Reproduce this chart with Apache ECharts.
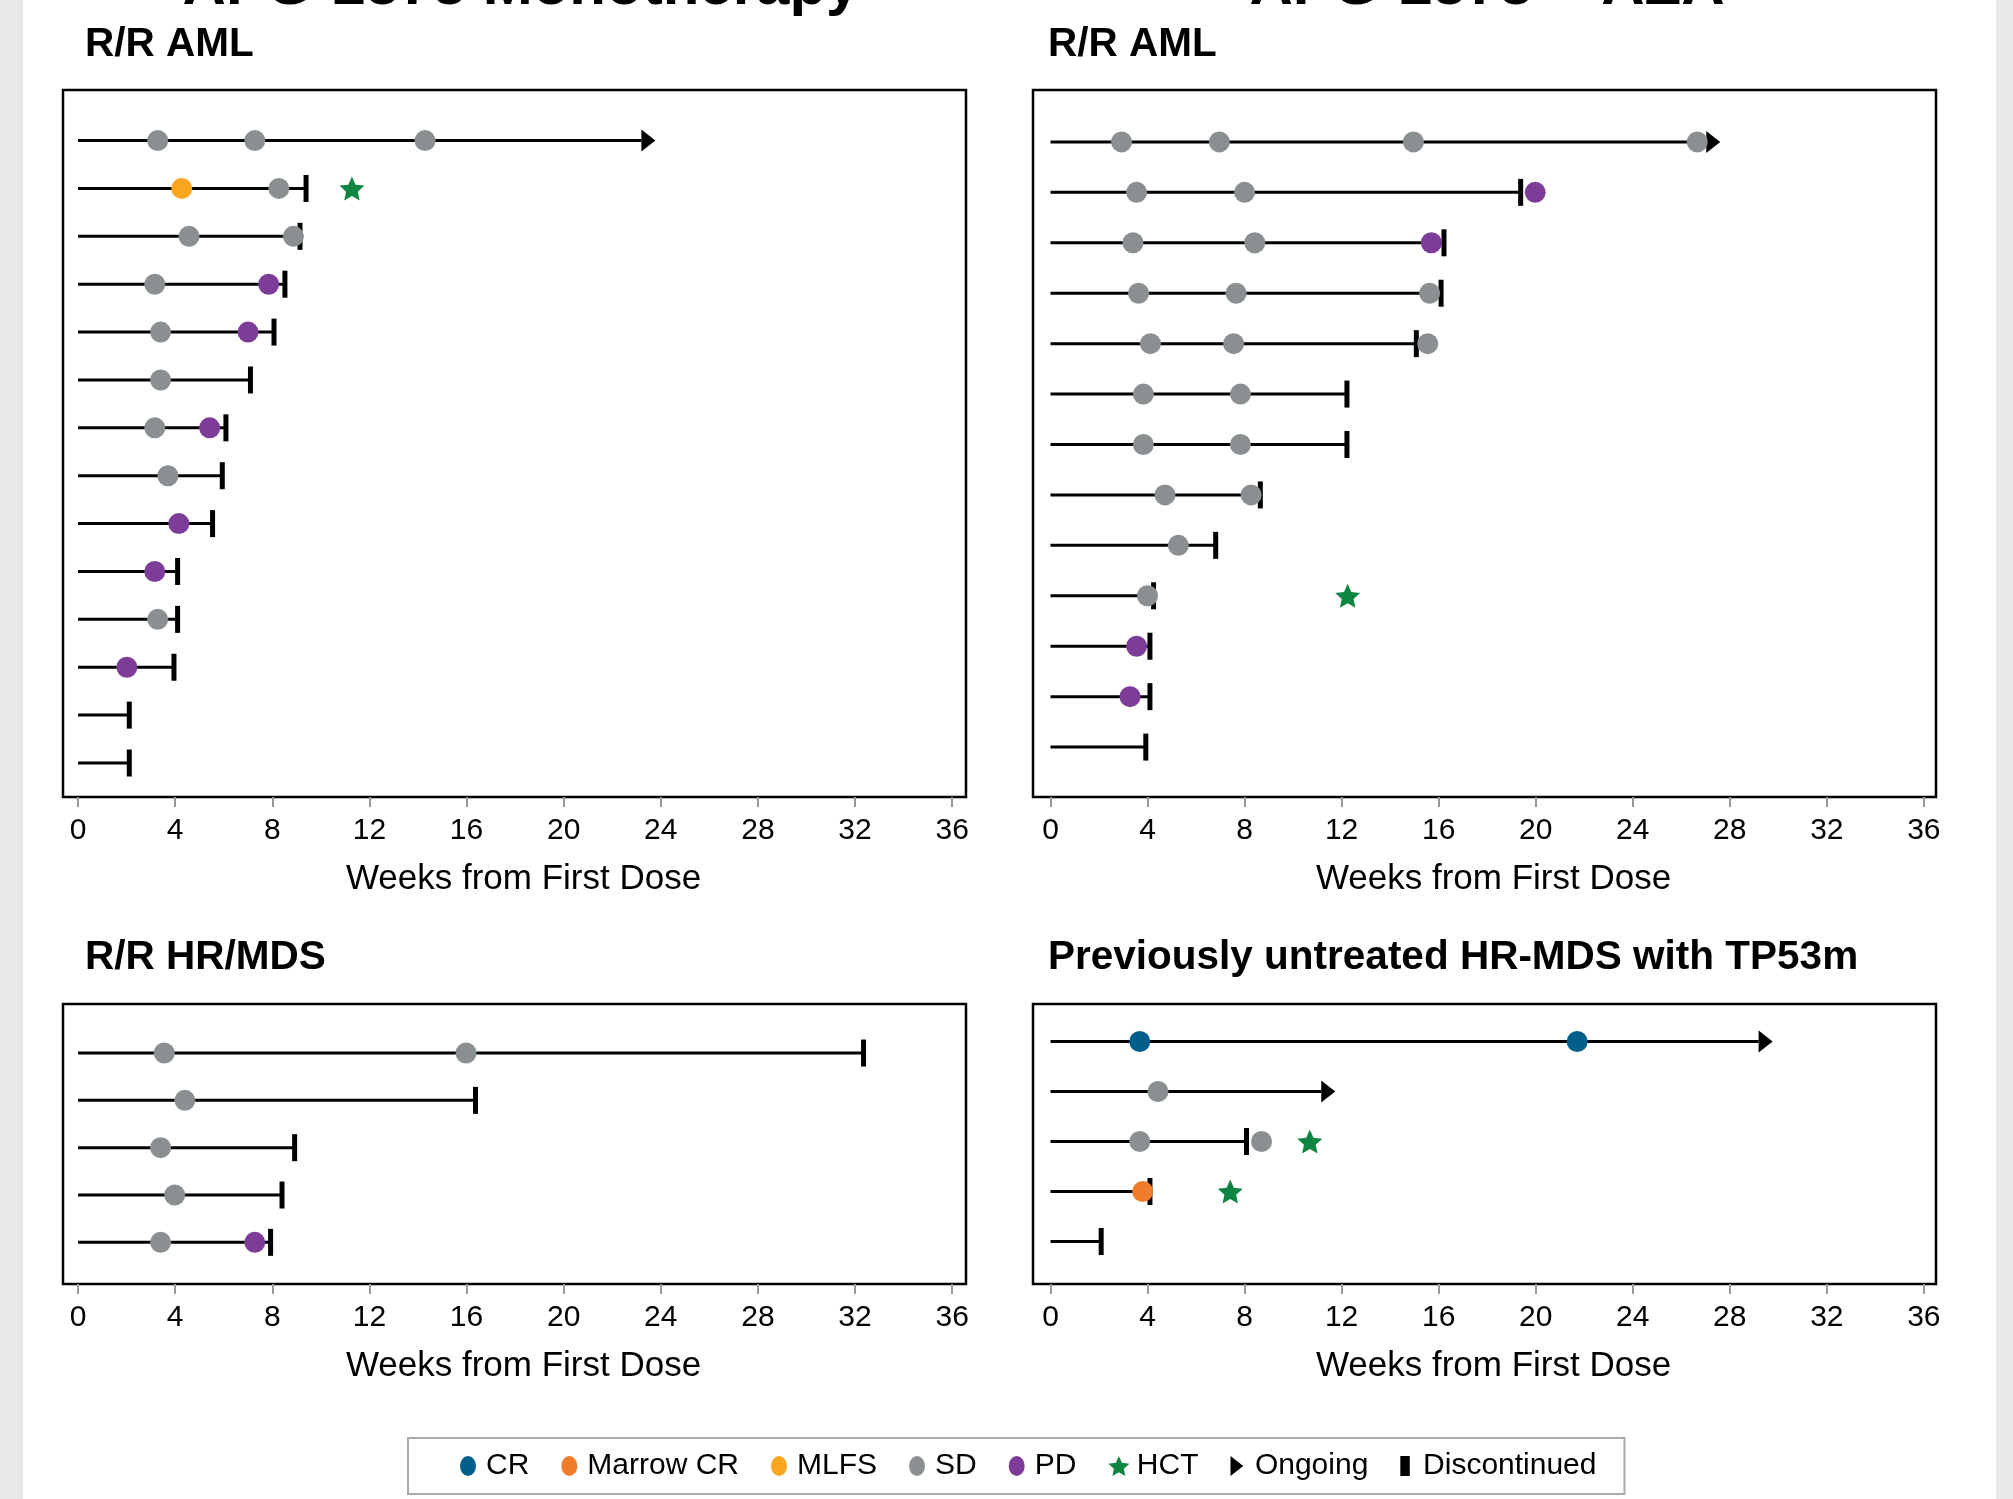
<!DOCTYPE html>
<html>
<head>
<meta charset="utf-8">
<script src="https://cdn.jsdelivr.net/npm/echarts@6/dist/echarts.min.js"></script>
<style>
html,body{margin:0;padding:0;background:#fff;}
#chart{width:2013px;height:1499px;}
</style>
</head>
<body>
<div id="chart"></div>
<script>
// ---------- DATA ----------
const WEEK_TICKS = [0, 4, 8, 12, 16, 20, 24, 28, 32, 36];
const AXIS_NAME = 'Weeks from First Dose';
const SUPER_TITLES = ['APG-2575 Monotherapy', 'APG-2575 + AZA'];
const PANEL_TITLES = ['R/R AML', 'R/R AML', 'R/R HR/MDS', 'Previously untreated HR-MDS with TP53m'];
const LEGEND_NAMES = ['CR', 'Marrow CR', 'MLFS', 'SD', 'PD', 'HCT', 'Ongoing', 'Discontinued'];

// Panel 1: Monotherapy, R/R AML (row 0 = top)
const p1_end = [23.2, 9.39, 9.14, 8.52, 8.07, 7.10, 6.09, 5.94, 5.54, 4.10, 4.10, 3.95, 2.11, 2.11];
const p1_status = ['Ongoing','Discontinued','Discontinued','Discontinued','Discontinued','Discontinued','Discontinued','Discontinued','Discontinued','Discontinued','Discontinued','Discontinued','Discontinued','Discontinued'];
const p1_SD = [[3.28,0],[7.28,0],[14.29,0],[8.27,1],[4.57,2],[8.87,2],[3.16,3],[3.40,4],[3.40,5],[3.16,6],[3.70,7],[3.28,10]];
const p1_PD = [[7.85,3],[7.00,4],[5.42,6],[4.15,8],[3.16,9],[2.01,11]];
const p1_MLFS = [[4.27,1]];
const p1_HCT = [[11.28,1]];

// Panel 2: + AZA, R/R AML
const p2_end = [27.03, 19.38, 16.22, 16.10, 15.08, 12.22, 12.22, 8.65, 6.81, 4.25, 4.10, 4.10, 3.93];
const p2_status = ['Ongoing','Discontinued','Discontinued','Discontinued','Discontinued','Discontinued','Discontinued','Discontinued','Discontinued','Discontinued','Discontinued','Discontinued','Discontinued'];
const p2_SD = [[2.93,0],[6.96,0],[14.96,0],[26.66,0],[3.55,1],[8.00,1],[3.40,2],[8.42,2],[3.63,3],[7.65,3],[15.63,3],[4.12,4],[7.55,4],[15.55,4],[3.83,5],[7.83,5],[3.83,6],[7.83,6],[4.72,7],[8.27,7],[5.27,8],[4.00,9]];
const p2_PD = [[19.98,1],[15.70,2],[3.55,10],[3.28,11]];
const p2_HCT = [[12.25,9]];

// Panel 3: Monotherapy, R/R HR/MDS
const p3_end = [32.35, 16.37, 8.92, 8.40, 7.93];
const p3_status = ['Discontinued','Discontinued','Discontinued','Discontinued','Discontinued'];
const p3_SD = [[3.55,0],[15.98,0],[4.40,1],[3.40,2],[3.98,3],[3.40,4]];
const p3_PD = [[7.28,4]];

// Panel 4: + AZA, previously untreated HR-MDS with TP53m
const p4_end = [29.19, 11.16, 8.08, 4.10, 2.09];
const p4_status = ['Ongoing','Ongoing','Discontinued','Discontinued','Discontinued'];
const p4_CR = [[3.68,0],[21.71,0]];
const p4_MarrowCR = [[3.80,3]];
const p4_SD = [[4.43,1],[3.68,2],[8.70,2]];
const p4_HCT = [[10.69,2],[7.41,3]];

// ---------- STYLE ----------
const FONT = '"Liberation Sans", Arial, Helvetica, sans-serif';
const COLORS = {CR:'#005f8a', 'Marrow CR':'#ef7d2a', MLFS:'#f9a51e', SD:'#8a9091', PD:'#7d3c98', HCT:'#0e8540', Ongoing:'#000', Discontinued:'#000'};
const STAR = 'path://M50,0L63.8,31L97.55,34.55L72.35,57.25L79.4,90.45L50,73.5L20.6,90.45L27.65,57.25L2.45,34.55L36.2,31Z';
const ARROW = 'path://M0,0L14,11L0,22Z';
const TICKBAR = 'path://M0,0L9,0L9,19L0,19Z';
const OVAL = 'path://M8,0A8,10 0 1,1 8,20A8,10 0 1,1 8,0Z';

const panels = [
  {grid:{left:63, top:90, width:903, height:707}, xmin:-0.62, xmax:36.57, ymin:-1.056, ymax:13.71,
   end:p1_end, status:p1_status, ev:{SD:p1_SD, PD:p1_PD, MLFS:p1_MLFS, HCT:p1_HCT}},
  {grid:{left:1033, top:90, width:903, height:707}, xmin:-0.72, xmax:36.5, ymin:-1.03, ymax:12.99,
   end:p2_end, status:p2_status, ev:{SD:p2_SD, PD:p2_PD, HCT:p2_HCT}},
  {grid:{left:63, top:1004, width:903, height:280}, xmin:-0.62, xmax:36.57, ymin:-1.036, ymax:4.88,
   end:p3_end, status:p3_status, ev:{SD:p3_SD, PD:p3_PD}},
  {grid:{left:1033, top:1004, width:903, height:280}, xmin:-0.72, xmax:36.5, ymin:-0.75, ymax:4.85,
   end:p4_end, status:p4_status, ev:{CR:p4_CR, 'Marrow CR':p4_MarrowCR, SD:p4_SD, HCT:p4_HCT}}
];

const grids = [], xAxes = [], yAxes = [], series = [];
panels.forEach((p, i) => {
  grids.push(Object.assign({show:true, borderColor:'#000', borderWidth:2.5, backgroundColor:'#fff'}, p.grid));
  xAxes.push({
    gridIndex:i, type:'value', min:p.xmin, max:p.xmax, position:'bottom',
    axisLine:{show:false, onZero:false}, splitLine:{show:false},
    axisTick:{show:true, customValues:WEEK_TICKS, length:10, lineStyle:{color:'#999', width:2}},
    axisLabel:{customValues:WEEK_TICKS, fontSize:30, color:'#000', margin:19, fontFamily:FONT},
    name:AXIS_NAME, nameLocation:'middle', nameGap:65,
    nameTextStyle:{fontSize:35, color:'#000', fontFamily:FONT, padding:[0, 0, 0, 18]}
  });
  yAxes.push({gridIndex:i, type:'value', inverse:true, min:p.ymin, max:p.ymax, show:false});

  const rows = p.end.map((e, r) => [e, r]);
  series.push({
    type:'custom', name:'timeline', xAxisIndex:i, yAxisIndex:i, silent:true, z:1,
    encode:{x:0, y:1}, data:rows,
    renderItem:(params, api) => {
      const s = api.coord([0, api.value(1)]);
      const e = api.coord([api.value(0), api.value(1)]);
      return {type:'line', shape:{x1:s[0], y1:s[1], x2:e[0], y2:e[1]}, style:{stroke:'#000', lineWidth:3}};
    }
  });
  series.push({type:'scatter', name:'Discontinued', xAxisIndex:i, yAxisIndex:i, silent:true, z:2,
    symbol:'rect', symbolSize:[5,27], itemStyle:{color:'#000', opacity:1},
    data:rows.filter((d, r) => p.status[r] === 'Discontinued')});
  series.push({type:'scatter', name:'Ongoing', xAxisIndex:i, yAxisIndex:i, silent:true, z:2,
    symbol:ARROW, symbolSize:[14,22], symbolOffset:[7,0], itemStyle:{color:'#000', opacity:1},
    data:rows.filter((d, r) => p.status[r] === 'Ongoing')});
  Object.keys(p.ev).forEach(k => {
    const isStar = k === 'HCT';
    series.push({type:'scatter', name:k, xAxisIndex:i, yAxisIndex:i, silent:true, z:3,
      symbol:isStar ? STAR : 'circle', symbolSize:isStar ? [25,24] : 21,
      itemStyle:{color:COLORS[k], opacity:1}, data:p.ev[k]});
  });
});

const legendData = LEGEND_NAMES.map(n => {
  let icon = OVAL;
  if (n === 'HCT') icon = STAR;
  if (n === 'Ongoing') icon = ARROW;
  if (n === 'Discontinued') icon = TICKBAR;
  return {name:n, icon:icon, itemStyle:{color:COLORS[n], opacity:1}};
});

const graphics = [
  {type:'rect', shape:{x:0, y:0, width:23, height:1499}, style:{fill:'#e8e8ea'}, silent:true},
  {type:'rect', shape:{x:1996, y:0, width:17, height:1499}, style:{fill:'#e8e8ea'}, silent:true},
  {type:'text', x:521, y:-13, style:{text:SUPER_TITLES[0], font:'bold 60px ' + FONT, fill:'#000', align:'center', verticalAlign:'middle'}},
  {type:'text', x:1487, y:-13, style:{text:SUPER_TITLES[1], font:'bold 60px ' + FONT, fill:'#000', align:'center', verticalAlign:'middle'}},
  {type:'text', x:85, y:45, style:{text:PANEL_TITLES[0], font:'bold 40.5px ' + FONT, fill:'#000', align:'left', verticalAlign:'middle'}},
  {type:'text', x:1048, y:45, style:{text:PANEL_TITLES[1], font:'bold 40.5px ' + FONT, fill:'#000', align:'left', verticalAlign:'middle'}},
  {type:'text', x:85, y:958, style:{text:PANEL_TITLES[2], font:'bold 40.5px ' + FONT, fill:'#000', align:'left', verticalAlign:'middle'}},
  {type:'text', x:1048, y:958, style:{text:PANEL_TITLES[3], font:'bold 40.5px ' + FONT, fill:'#000', align:'left', verticalAlign:'middle'}}
];

const chart = echarts.init(document.getElementById('chart'), null, {renderer:'canvas'});
chart.setOption({
  animation:false,
  backgroundColor:'#fff',
  grid:grids, xAxis:xAxes, yAxis:yAxes, series:series,
  graphic:graphics,
  legend:{
    data:legendData, left:408, top:1438,
    padding:[13, 28, 13, 52], itemGap:32, itemWidth:26, itemHeight:20,
    borderColor:'#aaa', borderWidth:2, backgroundColor:'#fff',
    textStyle:{fontSize:30, color:'#000', fontFamily:FONT}, selectedMode:false
  }
});
</script>
</body>
</html>
